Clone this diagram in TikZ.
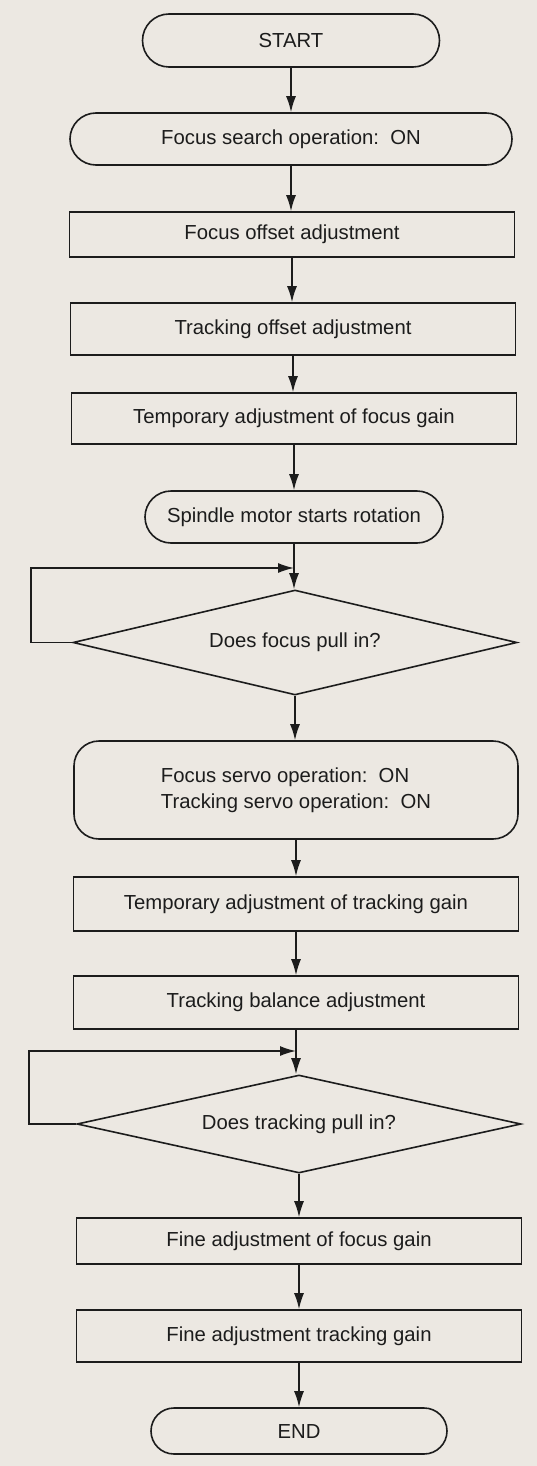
\documentclass[tikz,border=0pt]{standalone}
\usepackage{fontspec}
\setmainfont{Liberation Sans}
\usetikzlibrary{arrows.meta,shapes.geometric,shapes.misc}
\definecolor{paper}{RGB}{236,232,226}
\definecolor{ink}{RGB}{28,28,28}
\begin{document}
\begin{tikzpicture}[x=1pt,y=-1pt,
  base/.style={draw=ink, line width=1.6pt, inner sep=0pt, text=ink,
    font=\fontsize{20.3}{26}\selectfont},
  proc/.style={base, rectangle, minimum width=445pt, minimum height=#1},
  term/.style={base, rounded rectangle, minimum width=#1},
  servo/.style={base, rectangle, rounded corners=25pt, minimum width=444pt,
    minimum height=98pt, align=left},
  decide/.style={base, diamond, aspect=4.2, minimum width=444pt, minimum height=#1},
  conn/.style={draw=ink, line width=1.6pt, -{Latex[length=16pt,width=10pt]}}
]
\fill[paper] (0,0) rectangle (537,1466);
\useasboundingbox (0,0) rectangle (537,1466);

\node[term=297pt, minimum height=53pt] (start) at (291,40.5) {START};
\node[term=442pt, minimum height=52pt] (search) at (291,139) {Focus search operation:\ \ ON};
\node[proc=45pt] (foff) at (292,234.5) {Focus offset adjustment};
\node[proc=52pt] (toff) at (293,329) {Tracking offset adjustment};
\node[proc=51pt] (tfg) at (294,418.5) {Temporary adjustment of focus gain};
\node[term=298pt, minimum height=52pt] (spin) at (294,517) {Spindle motor starts rotation};
\node[decide=105pt] (d1) at (295,642.5) {Does focus pull in?};
\node[servo] (servo) at (296,790) {Focus servo operation:\ \ ON\\Tracking servo operation:\ \ ON};
\node[proc=54pt] (ttg) at (296,904) {Temporary adjustment of tracking gain};
\node[proc=53pt] (tbal) at (296,1002.5) {Tracking balance adjustment};
\node[decide=98pt] (d2) at (299,1124) {Does tracking pull in?};
\node[proc=46pt] (ffg) at (299,1241) {Fine adjustment of focus gain};
\node[proc=52pt] (ftg) at (299,1336) {Fine adjustment tracking gain};
\node[term=296pt, minimum height=46pt] (end) at (299,1431) {END};

\coordinate (j1) at (294,568);
\coordinate (l1) at (31,568);
\coordinate (j2) at (296,1051);
\coordinate (l2) at (29,1051);

\draw[conn] (start.south) -- (start.south |- search.north);
\draw[conn] (search.south) -- (search.south |- foff.north);
\draw[conn] (foff.south) -- (foff.south |- toff.north);
\draw[conn] (toff.south) -- (toff.south |- tfg.north);
\draw[conn] (tfg.south) -- (tfg.south |- spin.north);
\draw[conn] (spin.south) -- (spin.south |- d1.north);
\draw[conn] (d1.west) -| (l1) -- (j1);
\draw[conn] (d1.south) -- (d1.south |- servo.north);
\draw[conn] (servo.south) -- (servo.south |- ttg.north);
\draw[conn] (ttg.south) -- (ttg.south |- tbal.north);
\draw[conn] (tbal.south) -- (tbal.south |- d2.north);
\draw[conn] (d2.west) -| (l2) -- (j2);
\draw[conn] (d2.south) -- (d2.south |- ffg.north);
\draw[conn] (ffg.south) -- (ffg.south |- ftg.north);
\draw[conn] (ftg.south) -- (ftg.south |- end.north);
\end{tikzpicture}
\end{document}
